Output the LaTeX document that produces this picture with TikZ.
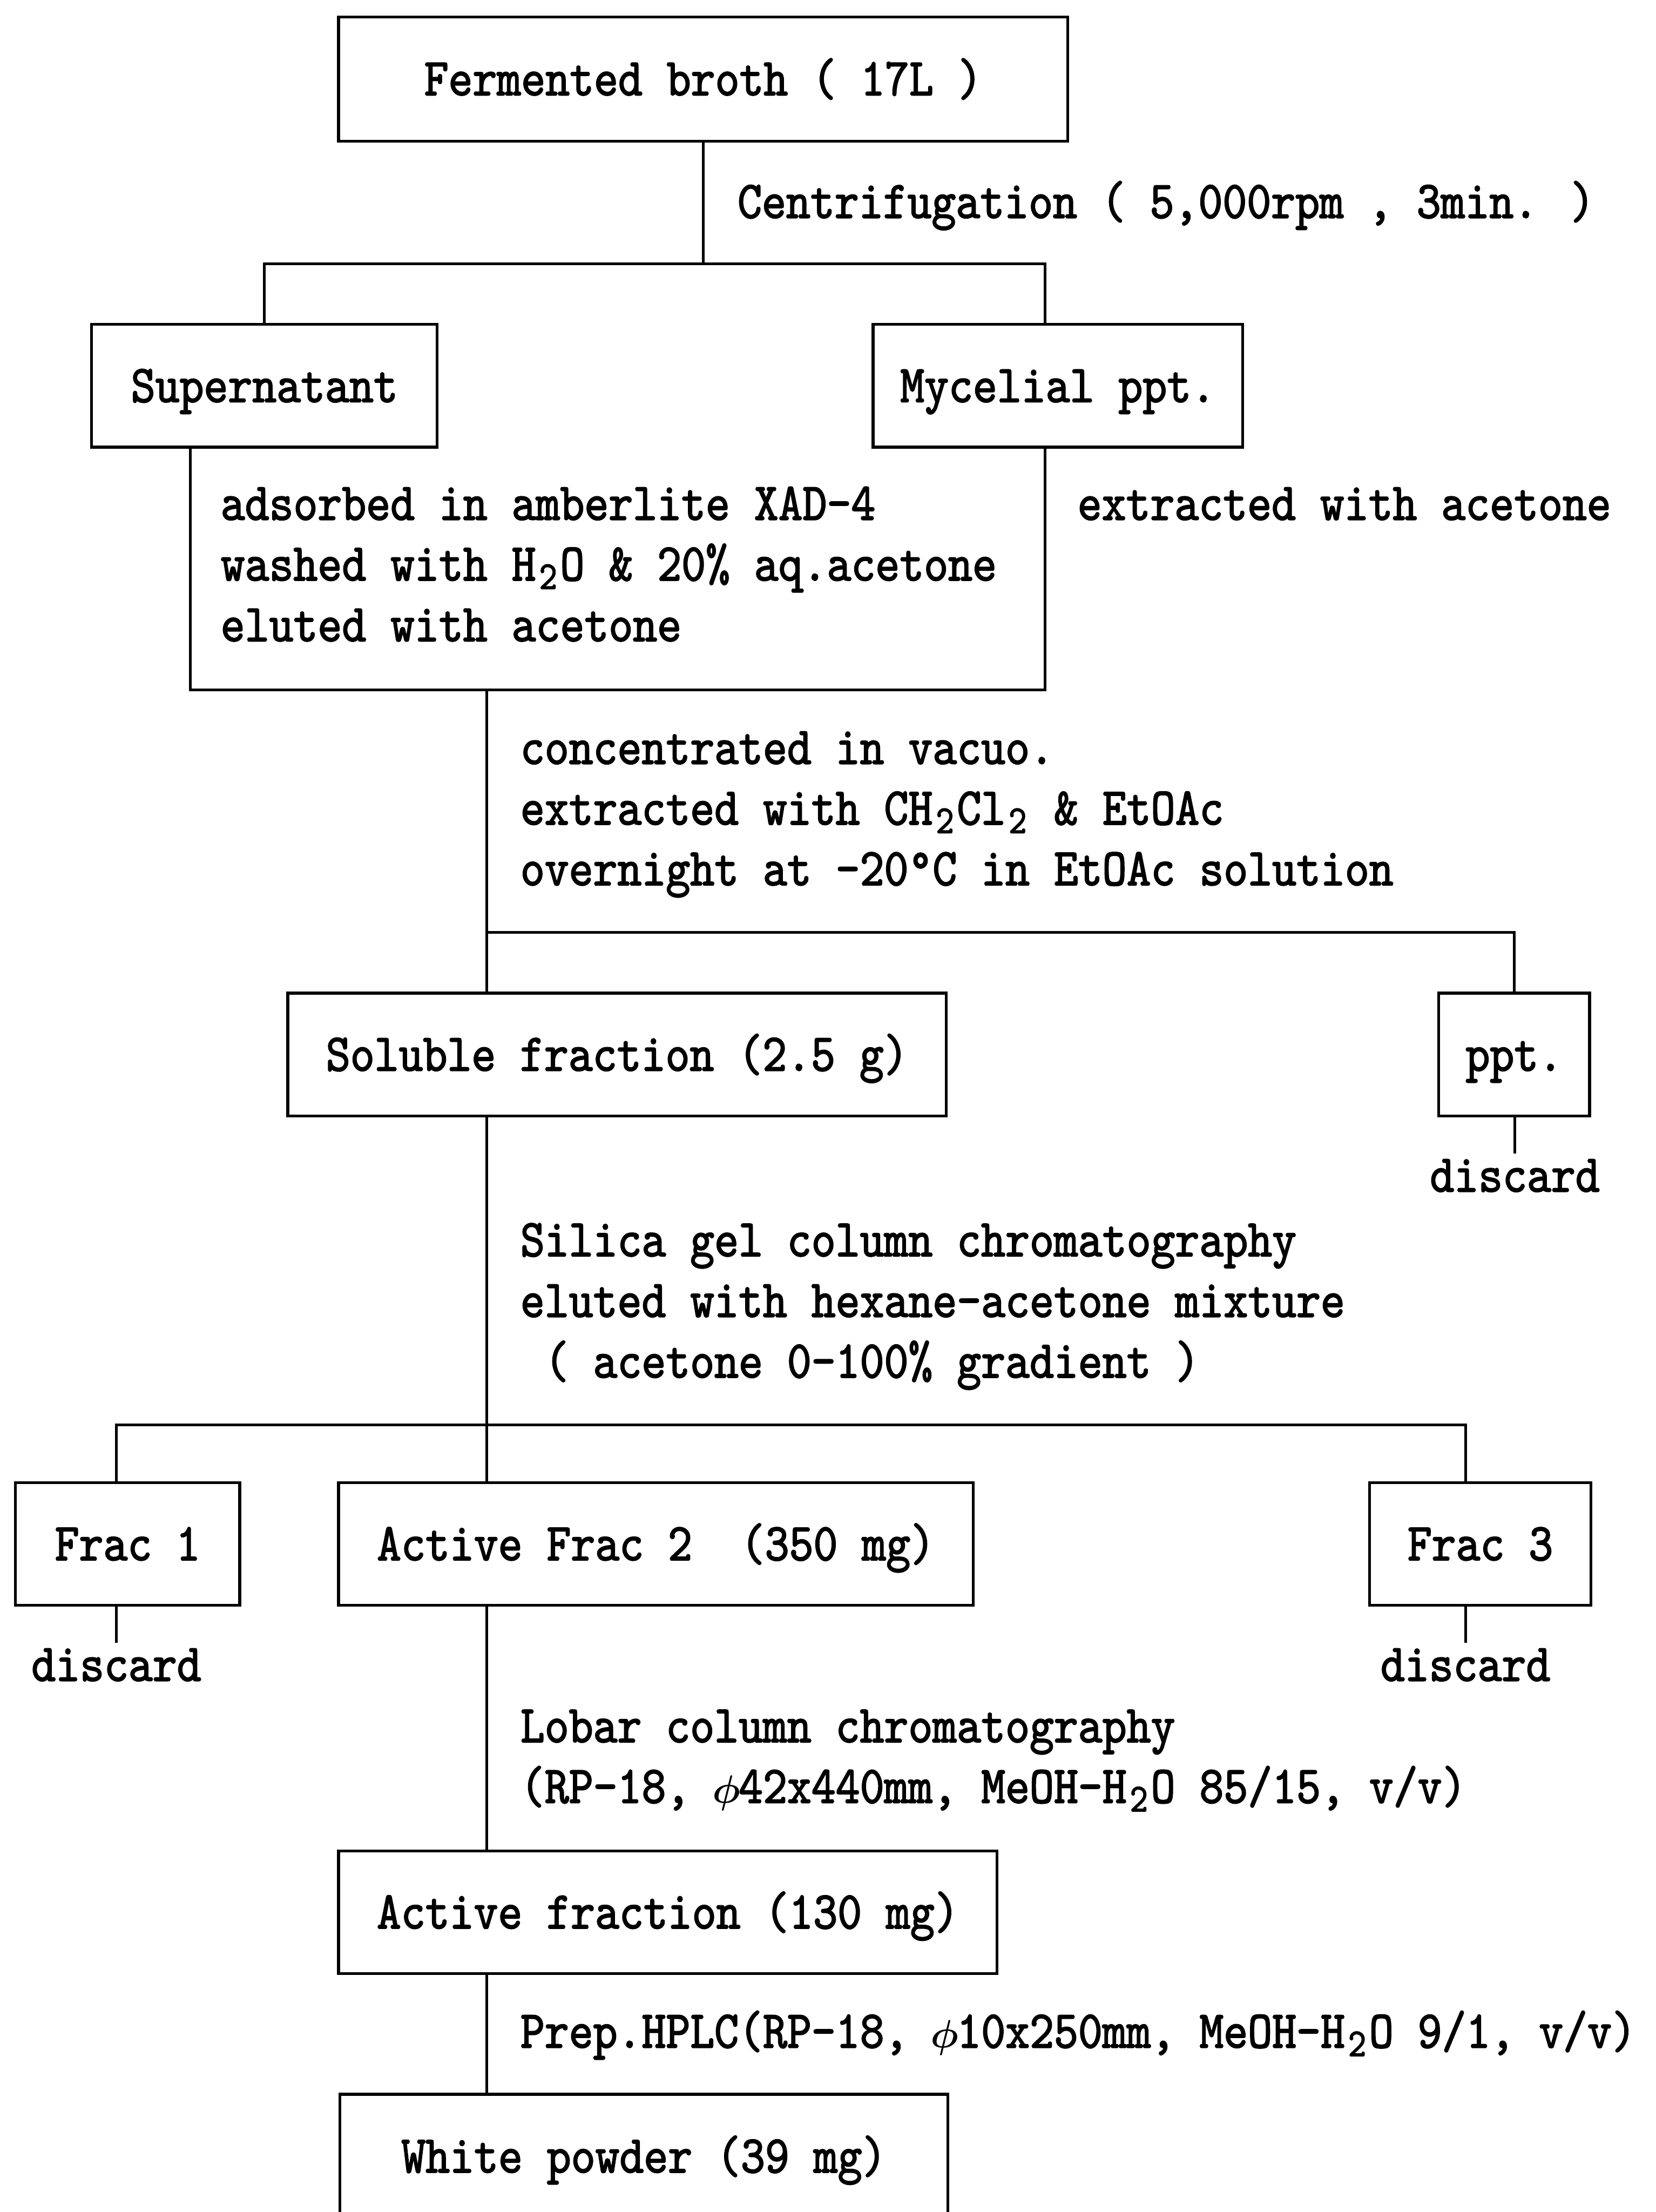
\documentclass[tikz,border=0pt]{standalone}
\usepackage{fontspec}
\usepackage{bm}
% narrow serif typewriter face used for every label
\newfontfamily\flowfont{lmmono10-regular.otf}[FakeStretch=0.871,FakeBold=2]
% one-cell subscript digit
\newcommand\subdig[1]{\makebox[17.2pt][c]{\raisebox{-6pt}{\fontsize{28}{28}\selectfont #1}}}
% one-cell diameter sign
\newcommand\diam{\makebox[17.2pt][c]{\scalebox{1.12}{$\bm{\phi}$}}}
\begin{document}
\begin{tikzpicture}[x=1pt,y=-1pt,
  every node/.style={font=\flowfont\fontsize{37.6}{43}\selectfont, inner sep=0pt, outer sep=0pt},
  box/.style={draw, line width=2pt, text height=23pt, text depth=0pt},
  note/.style={anchor=base west},
  waste/.style={anchor=base, text height=23pt},
  conn/.style={line width=2pt}]
\useasboundingbox (0,0) rectangle (1174,1568);
\clip (0,0) rectangle (1174,1568);

% ---- boxes
\node[box, minimum width=517pt, minimum height=88pt] (broth) at (498.5,56) {Fermented broth ( 17L )};
\node[box, minimum width=245pt, minimum height=87pt] (super) at (187.5,273.5) {Supernatant};
\node[box, minimum width=262pt, minimum height=87pt] (myc) at (750,273.5) {Mycelial ppt.};
\node[box, minimum width=467pt, minimum height=87pt] (sol) at (437.5,747.5) {Soluble fraction (2.5 g)};
\node[box, minimum width=107pt, minimum height=87pt] (ppt) at (1073.5,747.5) {ppt.};
\node[box, minimum width=159pt, minimum height=87pt] (f1) at (90.5,1094.5) {Frac 1};
\node[box, minimum width=450pt, minimum height=87pt] (af2) at (465,1094.5) {Active Frac 2\ \ (350 mg)};
\node[box, minimum width=157pt, minimum height=87pt] (f3) at (1049.5,1094.5) {Frac 3};
\node[box, minimum width=467pt, minimum height=87pt] (act) at (473.5,1355.5) {Active fraction (130 mg)};
\node[box, minimum width=431pt, minimum height=88pt] (wp) at (456.5,1528.5) {White powder (39 mg)};

% ---- discard labels
\node[waste] (d1) at (1074,844.7) {discard};
\node[waste] (d2) at (82.5,1191.5) {discard};
\node[waste] (d3) at (1039,1191.5) {discard};

% ---- process notes
\node[note] (n1) at (523,154.5) {Centrifugation ( 5,000rpm , 3min. )};
\node[note] (n2a) at (156.5,368.5) {adsorbed in amberlite XAD-4};
\node[note] (n2b) at (156.5,411.5) {washed with H\subdig{2}O \& 20\% aq.acetone};
\node[note] (n2c) at (156.5,454.5) {eluted with acetone};
\node[note] (n3) at (764,368.5) {extracted with acetone};
\node[note] (n4a) at (369,541.5) {concentrated in vacuo.};
\node[note] (n4b) at (369,584.5) {extracted with CH\subdig{2}Cl\subdig{2} \& EtOAc};
\node[note] (n4c) at (369,627.5) {overnight at -20°C in EtOAc solution};
\node[note] (n5a) at (369,890.5) {Silica gel column chromatography};
\node[note] (n5b) at (369,933.5) {eluted with hexane-acetone mixture};
\node[note] (n5c) at (369,976.5) {\ ( acetone 0-100\% gradient )};
\node[note] (n6a) at (369,1235) {Lobar column chromatography};
\node[note] (n6b) at (369,1278) {(RP-18, \diam42x440mm, MeOH-H\subdig{2}O 85/15, v/v)};
\node[note] (n7) at (369,1451.5) {Prep.HPLC(RP-18, \diam10x250mm, MeOH-H\subdig{2}O 9/1, v/v)};

% ---- junction points
\coordinate (c1) at (498.5,187);
\coordinate (c1r) at (741,187);
\coordinate (ul) at (135,489);
\coordinate (ur) at (741,489);
\coordinate (um) at (345,489);
\coordinate (c2) at (345,661);
\coordinate (c2r) at (1073.5,661);
\coordinate (c3) at (345,1010);
\coordinate (c3l) at (82.5,1010);
\coordinate (c3r) at (1039,1010);

% ---- connectors
\draw[conn] (broth.south) -- (c1);
\draw[conn] (super.north) |- (c1r) -- (myc.north -| c1r);
\draw[conn] (super.south -| ul) -- (ul) -- (ur) -- (myc.south -| ur);
\draw[conn] (um) -- (um |- sol.north);
\draw[conn] (c2) -- (c2r) -- (ppt.north);
\draw[conn] (ppt.south -| d1) -- ([yshift=4pt]d1.north);
\draw[conn] (sol.south -| c3) -- (c3);
\draw[conn] (c3l |- f1.north) -- (c3l) -- (c3r) -- (c3r |- f3.north);
\draw[conn] (c3) -- (c3 |- af2.north);
\draw[conn] (f1.south -| d2) -- ([yshift=4pt]d2.north);
\draw[conn] (f3.south -| d3) -- ([yshift=4pt]d3.north);
\draw[conn] (af2.south -| um) -- (um |- act.north);
\draw[conn] (act.south -| um) -- (um |- wp.north);
\end{tikzpicture}
\end{document}
